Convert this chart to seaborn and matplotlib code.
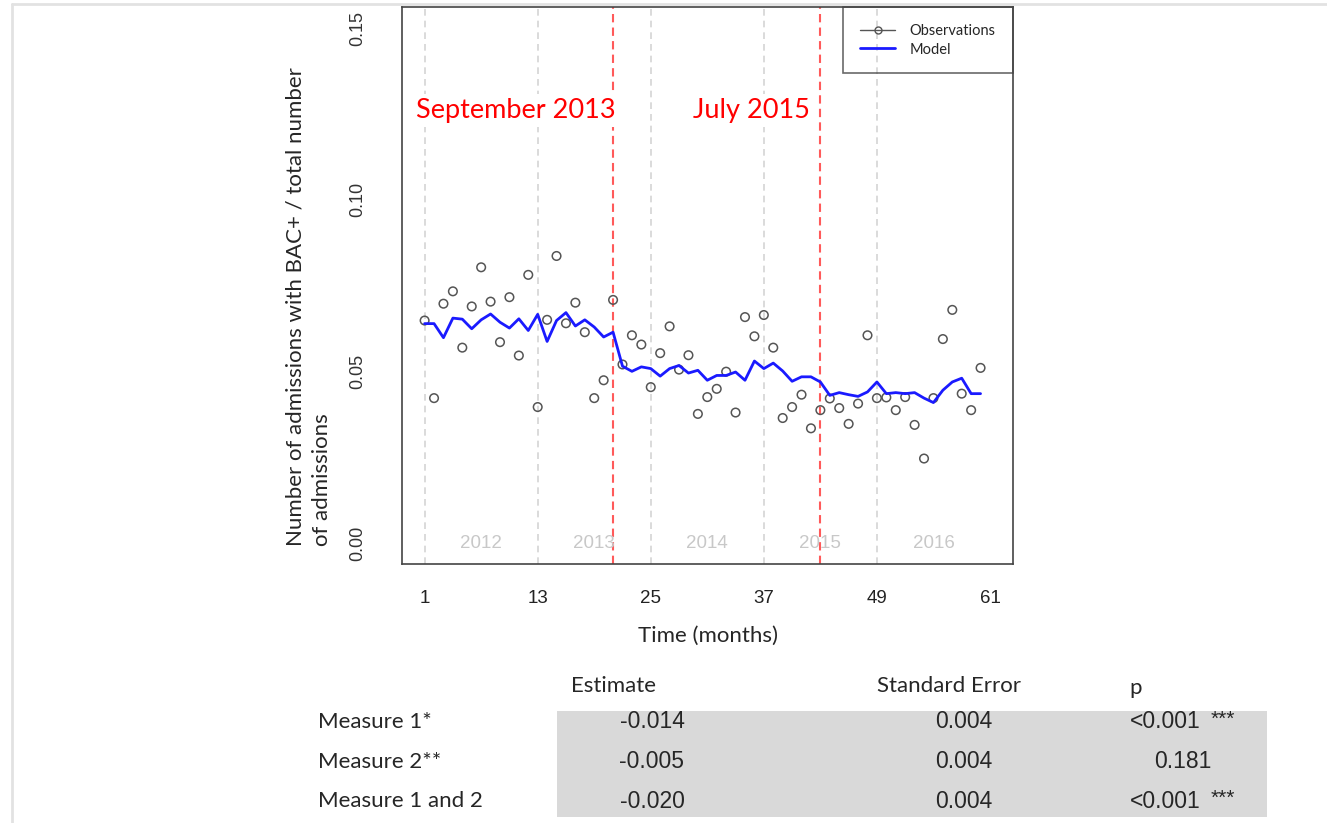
import matplotlib
matplotlib.use("Agg")
import matplotlib.pyplot as plt
from matplotlib.lines import Line2D
from matplotlib.patches import Rectangle
import pandas as pd
import seaborn as sns

# monthly data, Jan 2012 = month 1
months = list(range(1, 61))
observed = [0.0648, 0.0422, 0.0697, 0.0733, 0.0569, 0.0689, 0.0803, 0.0703, 0.0585, 0.0716,
            0.0546, 0.0781, 0.0396, 0.0650, 0.0836, 0.0640, 0.0700, 0.0614, 0.0422, 0.0474,
            0.0708, 0.0520, 0.0605, 0.0578, 0.0454, 0.0553, 0.0631, 0.0505, 0.0547, 0.0376,
            0.0425, 0.0449, 0.0499, 0.0380, 0.0658, 0.0602, 0.0664, 0.0569, 0.0364, 0.0396,
            0.0432, 0.0334, 0.0387, 0.0421, 0.0393, 0.0347, 0.0406, 0.0605, 0.0422, 0.0424,
            0.0387, 0.0425, 0.0344, 0.0246, 0.0422, 0.0594, 0.0679, 0.0435, 0.0387, 0.0510]
model = [0.0639, 0.0639, 0.0598, 0.0655, 0.0652, 0.0624, 0.0650, 0.0667, 0.0643, 0.0626,
         0.0653, 0.0619, 0.0666, 0.0587, 0.0648, 0.0671, 0.0632, 0.0650, 0.0629, 0.0600,
         0.0614, 0.0515, 0.0500, 0.0513, 0.0508, 0.0486, 0.0508, 0.0517, 0.0495, 0.0503,
         0.0474, 0.0488, 0.0488, 0.0498, 0.0474, 0.0530, 0.0508, 0.0524, 0.0501, 0.0471,
         0.0484, 0.0484, 0.0469, 0.0430, 0.0438, 0.0432, 0.0427, 0.0440, 0.0469, 0.0435,
         0.0438, 0.0435, 0.0438, 0.0422, 0.0409, 0.0445, 0.0469, 0.0480, 0.0435, 0.0435]

year_starts = [1, 13, 25, 37, 49]
year_mids = [7, 19, 31, 43, 55]
year_names = ["2012", "2013", "2014", "2015", "2016"]
measure_months = [21, 43]
measure_names = ["September 2013", "July 2015"]
xticks = [1, 13, 25, 37, 49, 61]
yticks = [0.00, 0.05, 0.10, 0.15]

# regression table
row_names = ["Measure 1*", "Measure 2**", "Measure 1 and 2"]
estimates = ["-0.014", "-0.005", "-0.020"]
std_errors = ["0.004", "0.004", "0.004"]
p_values = ["<0.001", "0.181", "<0.001"]
p_stars = ["***", "", "***"]

df = pd.DataFrame({"month": months, "observed": observed, "model": model})

sns.set_style("white")
plt.rcParams['font.family'] = ['Liberation Sans', 'DejaVu Sans']
calibri = ['Lato', 'DejaVu Sans']

W, H = 1327, 823
fig = plt.figure(figsize=(W / 100, H / 100), dpi=100)
ax = fig.add_axes([402 / W, 1 - 563.6 / H, 610.6 / W, 556.2 / H])

for m in year_starts:
    ax.axvline(m, color="#d4d4d4", lw=1.2, ls=(0, (4, 3)), zorder=0)
for m in measure_months:
    ax.axvline(m, color="#ff5a5a", lw=1.5, ls=(0, (4, 2.5)), zorder=1)
for m, name in zip(year_mids, year_names):
    ax.text(m, 0.0, name, color="#c8c8c8", fontsize=13.5, ha="center", va="center", zorder=1)

sns.scatterplot(data=df, x="month", y="observed", ax=ax, marker="o", s=38,
                facecolor="none", edgecolor="#555555", linewidth=1.1, zorder=3)
sns.lineplot(data=df, x="month", y="model", ax=ax, color="#1a1aff", lw=2, zorder=4)

# measure labels sit in white boxes over the grid lines
ax.text(10.7, 0.126, measure_names[0], color="red", fontsize=19.5, family=calibri,
        ha="center", va="center", zorder=2,
        bbox=dict(facecolor="white", edgecolor="none", pad=3))
ax.text(35.7, 0.126, measure_names[1], color="red", fontsize=19.5, family=calibri,
        ha="center", va="center", zorder=2,
        bbox=dict(facecolor="white", edgecolor="none", pad=3))

ax.set_xlim(-1.4, 63.4)
ax.set_ylim(-0.006, 0.156)
ax.set_xticks(xticks)
ax.set_xticklabels([str(t) for t in xticks], fontsize=13.5, color="#222222")
ax.set_yticks(yticks)
ax.set_yticklabels(["%.2f" % t for t in yticks], fontsize=13, color="#333333",
                   rotation=90, va="center")
ax.tick_params(axis="both", direction="out", length=8, width=1.1, color="#444444")
ax.tick_params(axis="x", pad=11)
ax.tick_params(axis="y", pad=18)
ax.set_xlabel("")
ax.set_ylabel("")
for sp in ax.spines.values():
    sp.set_visible(True)
    sp.set_color("#444444")
    sp.set_linewidth(1.2)

handles = [Line2D([], [], color="#555555", lw=1, marker="o", markersize=5,
                  markerfacecolor="none", markeredgecolor="#555555"),
           Line2D([], [], color="#1a1aff", lw=2)]
leg = ax.legend(handles, ["Observations", "Model"], loc="upper right",
                bbox_to_anchor=(1.0, 1.0), borderaxespad=0, frameon=True, fancybox=False,
                edgecolor="#444444", prop={"family": calibri, "size": 10.5},
                handlelength=2.4, borderpad=1.15, labelspacing=0.3, handletextpad=1.0)
leg.get_frame().set_facecolor("none")
leg.get_frame().set_linewidth(1.2)

fig.text(309 / W, 1 - 307 / H, "Number of admissions with BAC+ / total number\nof admissions",
         rotation=90, ha="center", va="center", ma="left", fontsize=16, family=calibri,
         linespacing=1.4)
fig.text(708 / W, 1 - 636 / H, "Time (months)", ha="center", va="center",
         fontsize=16, family=calibri)

# table
fig.patches.append(Rectangle((557 / W, 1 - 817 / H), 710 / W, 106 / H,
                             transform=fig.transFigure, facecolor="#d9d9d9",
                             edgecolor="none", zorder=0))
fig.text(571 / W, 1 - 686 / H, "Estimate", ha="left", va="center", fontsize=16, family=calibri)
fig.text(877 / W, 1 - 686 / H, "Standard Error", ha="left", va="center", fontsize=16, family=calibri)
fig.text(1136 / W, 1 - 688 / H, "p", ha="center", va="center", fontsize=16, family=calibri)
row_y = [722, 762, 801]
for y, name, est, se, p, st in zip(row_y, row_names, estimates, std_errors, p_values, p_stars):
    fig.text(318 / W, 1 - y / H, name, ha="left", va="center", fontsize=16, family=calibri)
    fig.text(652 / W, 1 - y / H, est, ha="center", va="center", fontsize=16.5)
    fig.text(964 / W, 1 - y / H, se, ha="center", va="center", fontsize=16.5)
    if st:
        fig.text(1201 / W, 1 - y / H, p, ha="right", va="center", fontsize=16.5)
        fig.text(1211 / W, 1 - (y - 3) / H, st, ha="left", va="center", fontsize=15)
    else:
        fig.text(1183 / W, 1 - y / H, p, ha="center", va="center", fontsize=16.5)

# faint page frame of the screenshot
fig.add_artist(Line2D([12 / W, 1], [1 - 4 / H, 1 - 4 / H], transform=fig.transFigure,
                      color="#e2e2e2", lw=2))
fig.add_artist(Line2D([12 / W, 12 / W], [0, 1 - 4 / H], transform=fig.transFigure,
                      color="#e2e2e2", lw=2))

fig.savefig("out.png", dpi=100)
